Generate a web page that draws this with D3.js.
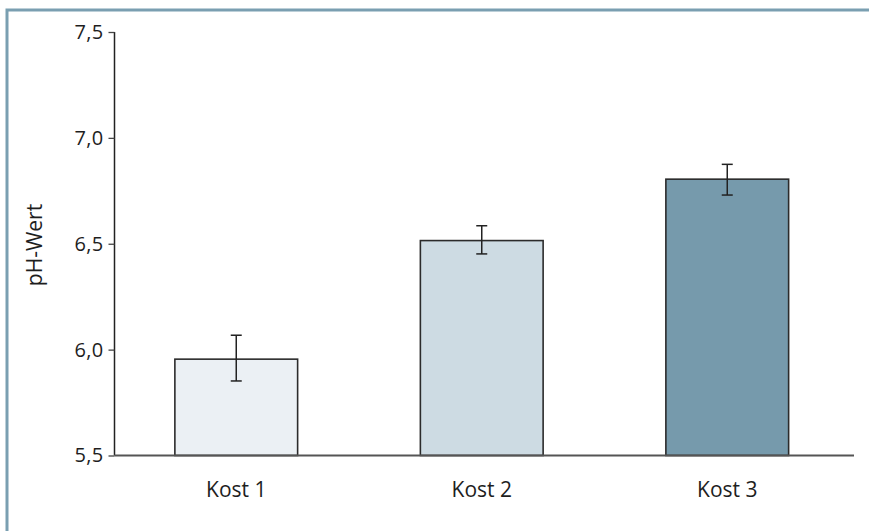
<!DOCTYPE html>
<html><head><meta charset="utf-8">
<script src="https://cdn.jsdelivr.net/npm/d3@7"></script>
<style>
html,body{margin:0;padding:0;background:#fff;}
svg{display:block;}
text{font-family:"Open Sans","Noto Sans",sans-serif;fill:#1e1e1e;}
</style></head>
<body>
<svg id="chart" width="869" height="531"></svg>
<script>
const categories = ["Kost 1", "Kost 2", "Kost 3"];
const values = [5.955, 6.515, 6.805];
const errLow = [5.852, 6.452, 6.73];
const errHigh = [6.068, 6.585, 6.875];
const yTicks = [5.5, 6.0, 6.5, 7.0, 7.5];
const fills = ["#ebf0f4", "#cddbe3", "#769aac"];
const yTitle = "pH-Wert";

const svg = d3.select("#chart");
const axisX = 114.5, baseY = 455.5, topY = 32;

// frame
svg.append("path").attr("d", "M7,531V10H869").attr("fill","none")
  .attr("stroke","#7a9fb1").attr("stroke-width",3);

const y = d3.scaleLinear().domain([5.5, 7.5]).range([baseY, topY]);
const x = d3.scaleBand().domain(categories).range([113.5, 850]).paddingInner(0.5).paddingOuter(0.25);

// bars
const g = svg.append("g");
g.selectAll("rect.bar").data(categories).join("rect")
  .attr("x", d => x(d)).attr("width", x.bandwidth())
  .attr("y", (d,i) => y(values[i])).attr("height", (d,i) => y(5.5) - y(values[i]))
  .attr("fill", (d,i) => fills[i]).attr("stroke", "#2b2b2b").attr("stroke-width", 1.6);

// error bars
const eb = g.selectAll("g.err").data(categories).join("g");
eb.append("line")
  .attr("x1", d => x(d) + x.bandwidth()/2).attr("x2", d => x(d) + x.bandwidth()/2)
  .attr("y1", (d,i) => y(errLow[i])).attr("y2", (d,i) => y(errHigh[i]))
  .attr("stroke", "#222").attr("stroke-width", 1.5);
[errLow, errHigh].forEach(arr => {
  eb.append("line")
    .attr("x1", d => x(d) + x.bandwidth()/2 - 5.5).attr("x2", d => x(d) + x.bandwidth()/2 + 5.5)
    .attr("y1", (d,i) => y(arr[i])).attr("y2", (d,i) => y(arr[i]))
    .attr("stroke", "#222").attr("stroke-width", 1.5);
});

// y axis
const yAxis = d3.axisLeft(y).tickValues(yTicks).tickSize(6).tickPadding(5)
  .tickFormat(d => d3.format(".1f")(d).replace(".", ","));
const ya = svg.append("g").attr("transform", `translate(${axisX},0)`).call(yAxis);
ya.select(".domain").attr("stroke", "#222").attr("stroke-width", 1.5).attr("d", `M0,${baseY}V${topY}`);
ya.selectAll(".tick line").attr("stroke", "#444").attr("stroke-width", 1.3);
ya.selectAll(".tick text").attr("font-size", 20).attr("letter-spacing", 0.3)
  .attr("font-family", "'Open Sans',sans-serif").attr("fill", "#1e1e1e");

// x baseline
svg.append("line").attr("x1", axisX).attr("x2", 854).attr("y1", baseY).attr("y2", baseY)
  .attr("stroke", "#555").attr("stroke-width", 2);

// x labels
const xAxis = d3.axisBottom(x).tickSize(0).tickPadding(0);
const xa = svg.append("g").attr("transform", `translate(0,${baseY})`).call(xAxis);
xa.select(".domain").remove();
xa.selectAll(".tick text").attr("y", 41.5).attr("dy", 0).attr("font-size", 21)
  .attr("font-family", "'Open Sans',sans-serif").attr("fill", "#1e1e1e");

// y title
svg.append("text").attr("transform", "translate(42,245) rotate(-90)")
  .attr("text-anchor", "middle").attr("font-size", 21).text(yTitle);
</script>
</body></html>
